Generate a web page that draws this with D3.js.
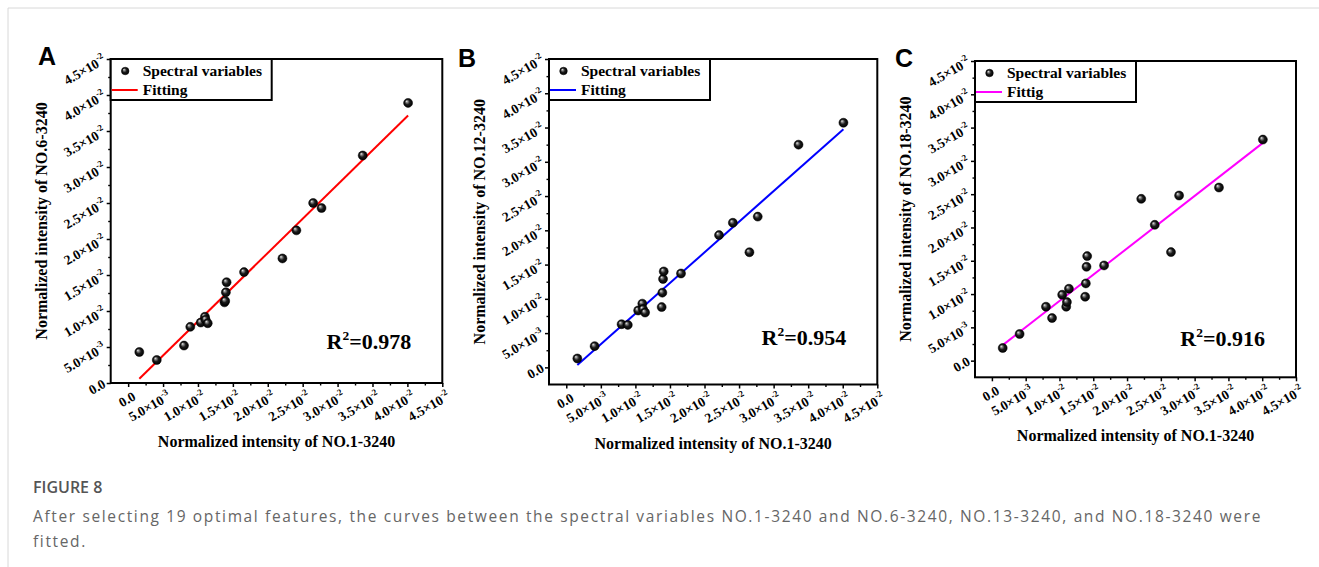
<!DOCTYPE html>
<html>
<head>
<meta charset="utf-8">
<script src="https://cdn.jsdelivr.net/npm/d3@7"></script>
<style>
  body { margin: 0; background: #fff; }
  .chart text { font-family: "Liberation Serif", "Times New Roman", serif; font-weight: bold; fill: #000; }
  .caption { font-family: "Open Sans", "Noto Sans", sans-serif; }
</style>
</head>
<body>
<svg id="fig" width="1319" height="567"></svg>
<script>
// intensity of NO.1-3240, shared x of the three panels
var xNo1 = [0.0016, 0.0041, 0.0080, 0.0089, 0.0104, 0.0110, 0.0111, 0.0114, 0.0138, 0.0139,
            0.0140, 0.0141, 0.0166, 0.0221, 0.0241, 0.0265, 0.0277, 0.0336, 0.0401];
var yNo6 = [0.0043, 0.0032, 0.0052, 0.0078, 0.0084, 0.0092, 0.0088, 0.0083, 0.0112, 0.0114,
            0.0126, 0.0140, 0.0154, 0.0173, 0.0212, 0.0250, 0.0243, 0.0316, 0.0389];
var yNo12 = [0.0013, 0.0031, 0.0063, 0.0062, 0.0083, 0.0093, 0.0085, 0.0080, 0.0088, 0.0109,
             0.0129, 0.0140, 0.0137, 0.0193, 0.0211, 0.0168, 0.0220, 0.0325, 0.0357];
var yNo18 = [0.0019, 0.0040, 0.0081, 0.0064, 0.0099, 0.0081, 0.0088, 0.0108, 0.0096, 0.0116,
             0.0141, 0.0157, 0.0143, 0.0243, 0.0204, 0.0163, 0.0248, 0.0260, 0.0332];

var fitSlope = [0.950, 0.894, 0.789];
var fitIntercept = [-0.00094, -0.0011, 0.00107];
var r2Labels = ["0.978", "0.954", "0.916"];
var panelLetters = ["A", "B", "C"];
var yTitles = ["Normalized intensity of NO.6-3240", "Normalized intensity of NO.12-3240",
               "Normalized intensity of NO.18-3240"];
var xTitle = "Normalized intensity of NO.1-3240";
var legendLabels = ["Spectral variables", "Spectral variables", "Spectral variables"];
var fitLabels = ["Fitting", "Fitting", "Fittig"];
var tickValues = [0, 0.005, 0.01, 0.015, 0.02, 0.025, 0.03, 0.035, 0.04, 0.045];

var captionHead = "FIGURE 8";
var captionLines = [
  "After selecting 19 optimal features, the curves between the spectral variables NO.1-3240 and NO.6-3240, NO.13-3240, and NO.18-3240 were",
  "fitted."
];

// layout of the three panels (pixels)
var panels = [
  { ys: yNo6,  left: 110.7, right: 442.3, top: 59, bottom: 383,   yMin: 0,       color: "#ff0000", r2dy: 34, letterX: 38,  letterY: 65 },
  { ys: yNo12, left: 549,   right: 877.3, top: 59, bottom: 384.5, yMin: -0.0025, color: "#0000ff", r2dy: 40, letterX: 458, letterY: 67 },
  { ys: yNo18, left: 975,   right: 1296,  top: 61, bottom: 377.3, yMin: -0.0025, color: "#ff00ff", r2dy: 31, letterX: 895, letterY: 67 }
];

var svg = d3.select("#fig");

// light frame of the page
svg.append("line").attr("x1", 8).attr("x2", 1319).attr("y1", 8).attr("y2", 8).attr("stroke", "#d8d8d8");
svg.append("line").attr("x1", 8).attr("x2", 8).attr("y1", 8).attr("y2", 567).attr("stroke", "#d8d8d8");

var grad = svg.append("defs").append("radialGradient")
  .attr("id", "ball").attr("cx", 0.5).attr("cy", 0.5).attr("r", 0.5).attr("fx", 0.32).attr("fy", 0.3);
grad.append("stop").attr("offset", "0%").attr("stop-color", "#f2f2f2");
grad.append("stop").attr("offset", "22%").attr("stop-color", "#8c8c8c");
grad.append("stop").attr("offset", "55%").attr("stop-color", "#1c1c1c");
grad.append("stop").attr("offset", "100%").attr("stop-color", "#000");

function fmt(v) {
  if (Math.abs(v) < 1e-12) return { m: "0.0" };
  var e = Math.floor(Math.log10(v) + 1e-9);
  return { m: (v / Math.pow(10, e)).toFixed(1) + "\u00d710", e: String(e) };
}

function writeLabel(sel) {
  sel.each(function (d) {
    var t = d3.select(this), f = fmt(d);
    t.text(null);
    t.append("tspan").text(f.m);
    if (f.e) t.append("tspan").attr("dy", -6).attr("font-size", 9).text(f.e);
  });
}

var minor = tickValues.map(function (v) { return v + 0.0025; }).filter(function (v) { return v < 0.045; });

panels.forEach(function (p, i) {
  var g = svg.append("g").attr("class", "chart");
  var x = d3.scaleLinear().domain([-0.0025, 0.045]).range([p.left, p.right]);
  var y = d3.scaleLinear().domain([p.yMin, 0.045]).range([p.bottom, p.top]);

  // minor ticks
  g.append("g").attr("transform", "translate(0," + p.bottom + ")")
    .call(d3.axisBottom(x).tickValues(minor).tickSize(2.5).tickFormat(""))
    .call(function (a) { a.select(".domain").remove(); a.selectAll("line").attr("stroke-width", 1.4); });
  g.append("g").attr("transform", "translate(" + p.left + ",0)")
    .call(d3.axisLeft(y).tickValues(minor.filter(function (v) { return v > p.yMin; })).tickSize(2.5).tickFormat(""))
    .call(function (a) { a.select(".domain").remove(); a.selectAll("line").attr("stroke-width", 1.4); });

  // major ticks with rotated labels
  var xa = g.append("g").attr("transform", "translate(0," + p.bottom + ")")
    .call(d3.axisBottom(x).tickValues(tickValues).tickSize(4));
  xa.select(".domain").remove();
  xa.selectAll("line").attr("stroke-width", 1.5);
  xa.selectAll("text")
    .attr("x", 0).attr("y", 0).attr("dy", 0)
    .attr("font-size", 13.5).attr("text-anchor", "end")
    .attr("transform", "translate(8,16) rotate(-30)")
    .call(writeLabel);

  var ya = g.append("g").attr("transform", "translate(" + p.left + ",0)")
    .call(d3.axisLeft(y).tickValues(tickValues).tickSize(4));
  ya.select(".domain").remove();
  ya.selectAll("line").attr("stroke-width", 1.5);
  ya.selectAll("text")
    .attr("x", 0).attr("y", 0).attr("dy", 0)
    .attr("font-size", 13.5).attr("text-anchor", "end")
    .attr("transform", "translate(-4,3) rotate(-30)")
    .call(writeLabel);

  // fitted line over the data range
  var ext = d3.extent(xNo1);
  g.append("line")
    .attr("x1", x(ext[0])).attr("y1", y(fitSlope[i] * ext[0] + fitIntercept[i]))
    .attr("x2", x(ext[1])).attr("y2", y(fitSlope[i] * ext[1] + fitIntercept[i]))
    .attr("stroke", p.color).attr("stroke-width", 2);

  // points
  g.selectAll("circle.pt").data(xNo1).join("circle")
    .attr("class", "pt")
    .attr("cx", function (d) { return x(d); })
    .attr("cy", function (d, k) { return y(p.ys[k]); })
    .attr("r", 4.5)
    .attr("fill", "url(#ball)")
    .attr("stroke", "#000").attr("stroke-width", 0.5);

  // frame
  g.append("rect")
    .attr("x", p.left).attr("y", p.top)
    .attr("width", p.right - p.left).attr("height", p.bottom - p.top)
    .attr("fill", "none").attr("stroke", "#000").attr("stroke-width", 2);

  // legend
  var lg = g.append("g").attr("transform", "translate(" + p.left + "," + p.top + ")");
  lg.append("rect").attr("width", 161).attr("height", 41)
    .attr("fill", "#fff").attr("stroke", "#000").attr("stroke-width", 2);
  lg.append("circle").attr("cx", 14.5).attr("cy", 12).attr("r", 3.8)
    .attr("fill", "url(#ball)").attr("stroke", "#000").attr("stroke-width", 0.5);
  lg.append("text").attr("x", 32).attr("y", 16.5).attr("font-size", 15.5).text(legendLabels[i]);
  lg.append("line").attr("x1", 1).attr("x2", 27).attr("y1", 31).attr("y2", 31)
    .attr("stroke", p.color).attr("stroke-width", 2);
  lg.append("text").attr("x", 32).attr("y", 35.5).attr("font-size", 15.5).text(fitLabels[i]);

  // R^2
  var rt = g.append("text")
    .attr("x", p.right - 31).attr("y", p.bottom - p.r2dy)
    .attr("text-anchor", "end").attr("font-size", 22);
  rt.append("tspan").text("R");
  rt.append("tspan").attr("dy", -9).attr("font-size", 13.5).text("2");
  rt.append("tspan").attr("dy", 9).text("=" + r2Labels[i]);

  // axis titles
  g.append("text")
    .attr("x", (p.left + p.right) / 2).attr("y", p.bottom + 64)
    .attr("text-anchor", "middle").attr("font-size", 16).text(xTitle);
  g.append("text")
    .attr("transform", "translate(" + (p.left - 64) + "," + ((p.top + p.bottom) / 2) + ") rotate(-90)")
    .attr("text-anchor", "middle").attr("font-size", 16).text(yTitles[i]);

  // panel letter
  svg.append("text")
    .attr("x", p.letterX).attr("y", p.letterY)
    .attr("font-family", "'Liberation Sans', Arial, sans-serif").attr("font-weight", "bold")
    .attr("font-size", 25).attr("fill", "#000").text(panelLetters[i]);
});

// caption
svg.append("text").attr("class", "caption")
  .attr("x", 33).attr("y", 493).attr("font-size", 16).attr("font-weight", 600)
  .attr("fill", "#555").text(captionHead);
var caps = svg.selectAll("text.capline").data(captionLines).join("text")
  .attr("class", "caption capline")
  .attr("x", 33).attr("y", function (d, k) { return 522 + k * 25; })
  .attr("font-size", 15.5).attr("fill", "#666").text(function (d) { return d; });
// the caption face of the page is wider than Open Sans: spread the letters to its line width
var first = caps.nodes()[0];
var spread = (1229 - first.getComputedTextLength()) / captionLines[0].length;
caps.attr("letter-spacing", spread);
</script>
</body>
</html>
